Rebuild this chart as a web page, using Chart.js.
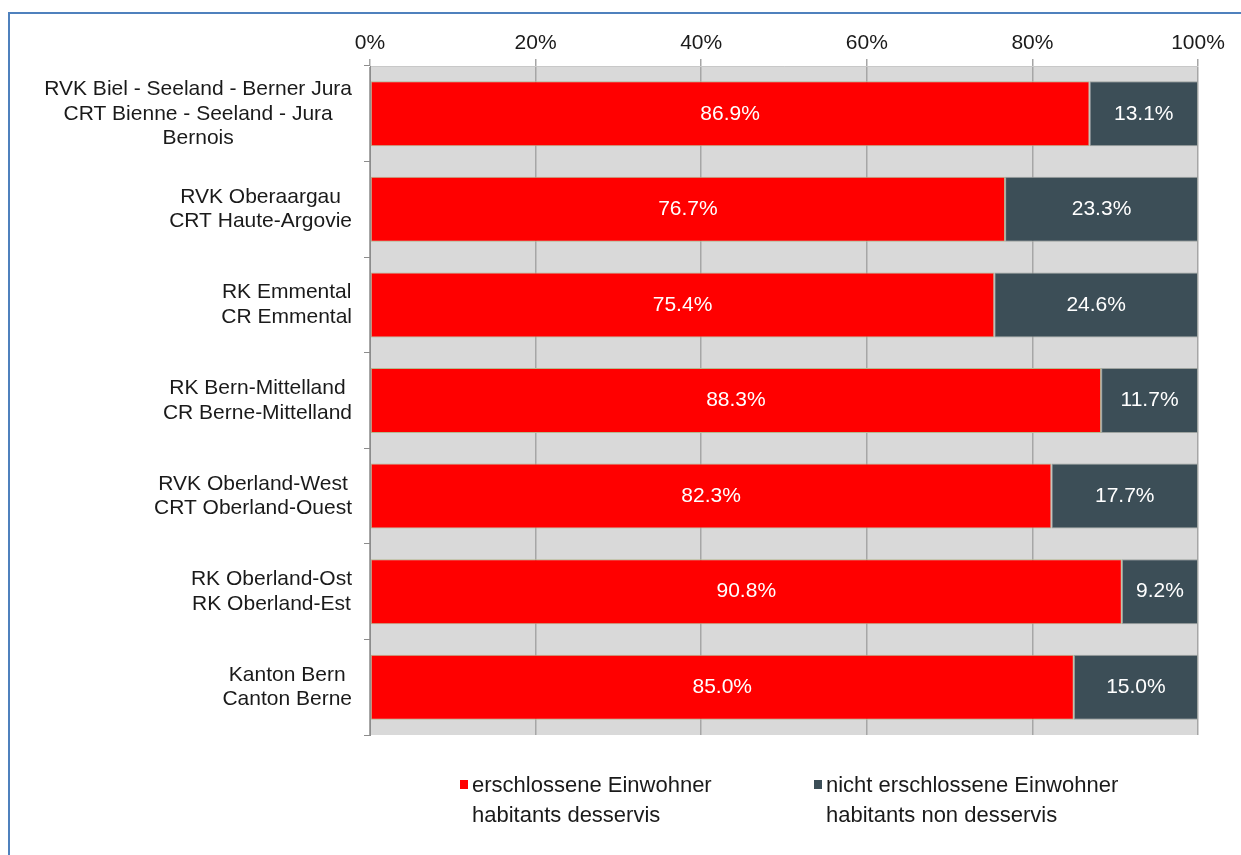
<!DOCTYPE html>
<html>
<head>
<meta charset="utf-8">
<script src="https://cdn.jsdelivr.net/npm/chart.js@4/dist/chart.umd.min.js"></script>
<style>
  html, body { margin: 0; padding: 0; background: #fff; overflow: hidden; }
  #wrap { position: relative; width: 1241px; height: 855px; }
  #frame { position: absolute; left: 8px; top: 12px; width: 2000px; height: 2000px;
           border-left: 2px solid #4f81bd; border-top: 2px solid #4f81bd; }
  #myChart { position: absolute; left: 0; top: 0; }
  .leg { position: absolute; font-family: "Liberation Sans", Arial, sans-serif; font-size: 22px;
         color: #1a1a1a; line-height: 30px; white-space: nowrap; }
  .leg i { position: absolute; left: -12px; top: 10px; width: 8px; height: 9px; }
</style>
</head>
<body>
<div id="wrap">
  <div id="frame"></div>
  <canvas id="myChart" width="1241" height="855"></canvas>
  <div id="legend"></div>
</div>
<script>
'use strict';

// カテゴリ（複数行ラベル）
var categories = [
  ['RVK Biel - Seeland - Berner Jura', 'CRT Bienne - Seeland - Jura', 'Bernois'],
  ['RVK Oberaargau', 'CRT Haute-Argovie'],
  ['RK Emmental', 'CR Emmental'],
  ['RK Bern-Mittelland', 'CR Berne-Mittelland'],
  ['RVK Oberland-West', 'CRT Oberland-Ouest'],
  ['RK Oberland-Ost', 'RK Oberland-Est'],
  ['Kanton Bern', 'Canton Berne']
];

// 系列データ（%）
var served = [86.9, 76.7, 75.4, 88.3, 82.3, 90.8, 85.0];
var notServed = [13.1, 23.3, 24.6, 11.7, 17.7, 9.2, 15.0];

var seriesLabels = [
  ['erschlossene Einwohner', 'habitants desservis'],
  ['nicht erschlossene Einwohner', 'habitants non desservis']
];

var tickValues = [0, 20, 40, 60, 80, 100];

var FONT = '"Liberation Sans", Arial, sans-serif';

// プロットエリアの背景
var plotBg = {
  id: 'plotBg',
  beforeDraw: function (chart) {
    var a = chart.chartArea, c = chart.ctx;
    c.save();
    c.fillStyle = '#d9d9d9';
    c.fillRect(a.left, a.top, a.right - a.left, a.bottom - a.top);
    c.restore();
  }
};

// Y軸ラベル：各ブロックを右寄せ、行は中央揃え（Excel風）
var yLabels = {
  id: 'yLabels',
  afterDraw: function (chart) {
    var c = chart.ctx, s = chart.scales.y;
    var right = s.right - 6 - 12;
    var lh = 24.5;
    c.save();
    c.font = '21px ' + FONT;
    c.fillStyle = '#1a1a1a';
    c.textAlign = 'center';
    c.textBaseline = 'middle';
    chart.data.labels.forEach(function (lines, i) {
      var w = Math.max.apply(null, lines.map(function (t) { return c.measureText(t).width; }));
      var cx = right - w / 2;
      var cy = s.getPixelForTick(i);
      lines.forEach(function (t, j) {
        c.fillText(t, cx, cy + (j - (lines.length - 1) / 2) * lh);
      });
    });
    c.restore();
  }
};

// 棒の中の数値ラベル
var barLabels = {
  id: 'barLabels',
  afterDatasetsDraw: function (chart) {
    var c = chart.ctx;
    c.save();
    c.font = '21px ' + FONT;
    c.fillStyle = '#ffffff';
    c.textAlign = 'center';
    c.textBaseline = 'middle';
    chart.data.datasets.forEach(function (ds, di) {
      chart.getDatasetMeta(di).data.forEach(function (bar, i) {
        var x = (bar.x + bar.base) / 2;
        c.fillText(ds.data[i].toFixed(1) + '%', x, bar.y);
      });
    });
    c.restore();
  }
};

var ctx = document.getElementById('myChart');

var myChart = new Chart(ctx, {
  type: 'bar',
  data: {
    labels: categories,
    datasets: [{
      label: seriesLabels[0].join(' / '),
      data: served,
      backgroundColor: '#ff0000',
      borderColor: '#b5b890',
      borderWidth: 1,
      borderSkipped: false,
      barPercentage: 0.68,
      categoryPercentage: 1
    }, {
      label: seriesLabels[1].join(' / '),
      data: notServed,
      backgroundColor: '#3c4e57',
      borderColor: '#9ea3a0',
      borderWidth: 1,
      borderSkipped: false,
      barPercentage: 0.68,
      categoryPercentage: 1
    }]
  },
  options: {
    responsive: false,
    animation: false,
    indexAxis: 'y',
    layout: { padding: { left: 30, right: 43, top: 0, bottom: 120 } },
    plugins: {
      legend: { display: false },
      tooltip: { enabled: false }
    },
    scales: {
      x: {
        position: 'top',
        stacked: true,
        min: 0,
        max: 100,
        afterBuildTicks: function (axis) {
          axis.ticks = tickValues.map(function (v) { return { value: v }; });
        },
        afterFit: function (axis) { axis.height = 66; },
        grid: { color: '#a6a6a6', lineWidth: 1.5, tickLength: 7, drawTicks: true },
        border: { display: true, color: '#c8c8c8', width: 1 },
        ticks: {
          color: '#1a1a1a',
          padding: 3,
          font: { family: FONT, size: 21 },
          callback: function (v) { return v + '%'; }
        }
      },
      y: {
        stacked: true,
        afterFit: function (axis) { axis.width = 340; },
        grid: { offset: true, drawOnChartArea: false, color: '#8c8c8c', tickLength: 6 },
        border: { display: true, color: '#8c8c8c', width: 1 },
        ticks: { display: false }
      }
    }
  },
  plugins: [plotBg, barLabels, yLabels]
});

// 凡例（2行ラベル）
var legendPos = [{ left: 472, top: 770 }, { left: 826, top: 770 }];
var legendEl = document.getElementById('legend');
myChart.data.datasets.forEach(function (ds, i) {
  var d = document.createElement('div');
  d.className = 'leg';
  d.style.left = legendPos[i].left + 'px';
  d.style.top = legendPos[i].top + 'px';
  d.innerHTML = '<i style="background:' + ds.backgroundColor + '"></i>' + seriesLabels[i].join('<br>');
  legendEl.appendChild(d);
});
</script>
</body>
</html>
